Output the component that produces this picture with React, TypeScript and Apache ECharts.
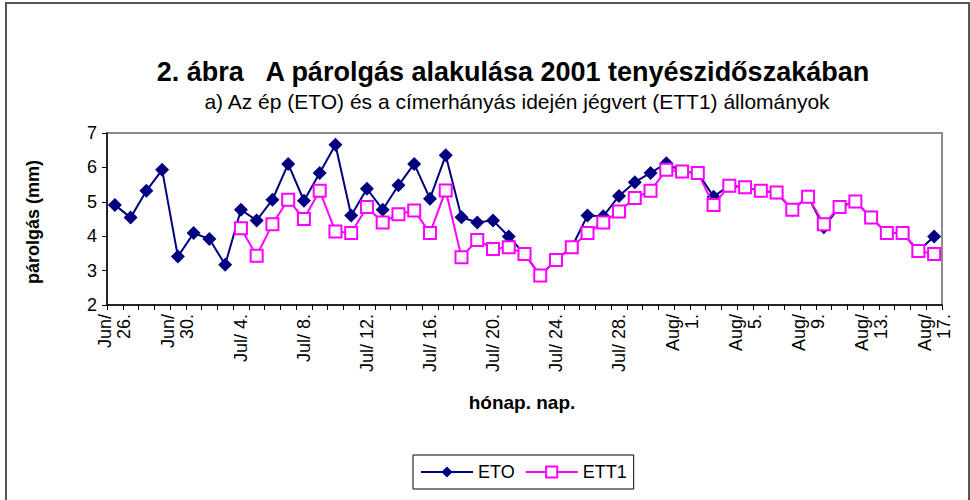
import React, { useEffect, useRef } from "react";
import * as echarts from "echarts";

const categories: string[] = [
  "Jun/ 26.", "Jun/ 27.", "Jun/ 28.", "Jun/ 29.", "Jun/ 30.",
  "Jul/ 1.", "Jul/ 2.", "Jul/ 3.", "Jul/ 4.", "Jul/ 5.", "Jul/ 6.", "Jul/ 7.", "Jul/ 8.",
  "Jul/ 9.", "Jul/ 10.", "Jul/ 11.", "Jul/ 12.", "Jul/ 13.", "Jul/ 14.", "Jul/ 15.", "Jul/ 16.",
  "Jul/ 17.", "Jul/ 18.", "Jul/ 19.", "Jul/ 20.", "Jul/ 21.", "Jul/ 22.", "Jul/ 23.", "Jul/ 24.",
  "Jul/ 25.", "Jul/ 26.", "Jul/ 27.", "Jul/ 28.", "Jul/ 29.", "Jul/ 30.", "Jul/ 31.",
  "Aug/ 1.", "Aug/ 2.", "Aug/ 3.", "Aug/ 4.", "Aug/ 5.", "Aug/ 6.", "Aug/ 7.", "Aug/ 8.",
  "Aug/ 9.", "Aug/ 10.", "Aug/ 11.", "Aug/ 12.", "Aug/ 13.", "Aug/ 14.", "Aug/ 15.", "Aug/ 16.",
  "Aug/ 17.",
];

const eto: number[] = [
  4.91, 4.54, 5.32, 5.93, 3.41, 4.09, 3.92, 3.17, 4.77, 4.46,
  5.06, 6.10, 5.03, 5.84, 6.66, 4.60, 5.38, 4.77, 5.48, 6.10,
  5.09, 6.35, 4.55, 4.40, 4.46, 3.99, 3.48, 2.86, 3.31, 3.68,
  4.60, 4.58, 5.17, 5.57, 5.84, 6.12, 5.88, 5.84, 5.15, 5.47,
  5.42, 5.32, 5.27, 4.77, 5.15, 4.26, 4.85, 5.01, 4.54, 4.09,
  4.09, 3.57, 3.99,
];

const ett1: (number | null)[] = [
  null, null, null, null, null, null, null, null, 4.23, 3.43,
  4.35, 5.06, 4.50, 5.32, 4.14, 4.09, 4.85, 4.40, 4.64, 4.75,
  4.09, 5.33, 3.39, 3.89, 3.63, 3.68, 3.48, 2.86, 3.31, 3.68,
  4.09, 4.40, 4.72, 5.11, 5.32, 5.93, 5.88, 5.84, 4.91, 5.47,
  5.42, 5.32, 5.27, 4.77, 5.15, 4.35, 4.85, 5.01, 4.54, 4.09,
  4.09, 3.57, 3.48,
];

const seriesNames = ["ETO", "ETT1"];
const yTicks = { min: 2, max: 7, interval: 1 };
const titleText = "2. ábra   A párolgás alakulása 2001 tenyészidőszakában";
const subtitleText = "a) Az ép (ETO) és a címerhányás idején jégvert (ETT1) állományok";
const yName = "párolgás (mm)";
const xName = "hónap. nap.";

const FONT = "'Liberation Sans', Arial, sans-serif";

export default function App() {
  const ref = useRef<HTMLDivElement>(null);
  useEffect(() => {
    if (!ref.current) return;
    const chart = echarts.init(ref.current, undefined, { renderer: "svg" });
    chart.setOption({
      animation: false,
      backgroundColor: "#ffffff",
      textStyle: { fontFamily: FONT },
      grid: {
        left: 107,
        right: 28,
        top: 133,
        height: 172,
        show: true,
        borderColor: "#8c8c8c",
        borderWidth: 2,
        backgroundColor: "transparent",
      },
      xAxis: {
        type: "category",
        data: categories,
        boundaryGap: true,
        axisLine: { show: true, lineStyle: { color: "#000", width: 1.5 } },
        axisTick: { show: true, interval: 0, length: 5, lineStyle: { color: "#000" } },
        axisLabel: {
          interval: 3,
          rotate: 90,
          margin: 9,
          fontSize: 18,
          color: "#000",
          fontFamily: FONT,
          lineHeight: 19,
          formatter: (v: string) =>
            v.startsWith("Jul") ? v : v.replace("/ ", "/\n"),
        },
        splitLine: { show: false },
      },
      yAxis: {
        type: "value",
        min: yTicks.min,
        max: yTicks.max,
        interval: yTicks.interval,
        axisLine: { show: true, lineStyle: { color: "#000", width: 1.5 } },
        axisTick: { show: true, length: 5, lineStyle: { color: "#000" } },
        axisLabel: { fontSize: 18, color: "#000", margin: 10, fontFamily: FONT },
        splitLine: { show: false },
      },
      legend: {
        data: seriesNames,
        left: 413,
        top: 455,
        orient: "horizontal",
        borderColor: "#000",
        borderWidth: 1,
        padding: [8, 7],
        itemWidth: 52,
        itemHeight: 14,
        itemGap: 10,
        textStyle: { fontSize: 18, color: "#000", fontFamily: FONT },
      },
      graphic: [
        {
          type: "rect",
          shape: { x: 6, y: 3, width: 963, height: 520 },
          style: { fill: "none", stroke: "#555", lineWidth: 2 },
          silent: true,
        },
        {
          type: "text",
          x: 513,
          y: 72,
          style: {
            text: titleText,
            fontSize: 27,
            fontWeight: "bold",
            fontFamily: FONT,
            fill: "#000",
            textAlign: "center",
            textVerticalAlign: "middle",
          },
        },
        {
          type: "text",
          x: 517,
          y: 101,
          style: {
            text: subtitleText,
            fontSize: 21,
            fontFamily: FONT,
            fill: "#000",
            textAlign: "center",
            textVerticalAlign: "middle",
          },
        },
        {
          type: "text",
          x: 33,
          y: 222,
          rotation: Math.PI / 2,
          style: {
            text: yName,
            fontSize: 18,
            fontWeight: "bold",
            fontFamily: FONT,
            fill: "#000",
            textAlign: "center",
            textVerticalAlign: "middle",
          },
        },
        {
          type: "text",
          x: 522,
          y: 402,
          style: {
            text: xName,
            fontSize: 19,
            fontWeight: "bold",
            fontFamily: FONT,
            fill: "#000",
            textAlign: "center",
            textVerticalAlign: "middle",
          },
        },
      ],
      series: [
        {
          name: seriesNames[0],
          type: "line",
          data: eto,
          symbol: "diamond",
          symbolSize: 14,
          showAllSymbol: true,
          lineStyle: { color: "#000080", width: 2 },
          itemStyle: { color: "#000080" },
          z: 2,
        },
        {
          name: seriesNames[1],
          type: "line",
          data: ett1,
          connectNulls: false,
          symbol: "rect",
          symbolSize: 12,
          showAllSymbol: true,
          lineStyle: { color: "#FF00FF", width: 2 },
          itemStyle: { color: "#ffffff", borderColor: "#FF00FF", borderWidth: 2 },
          z: 3,
        },
      ],
    });
    return () => chart.dispose();
  }, []);
  return (
    <div
      ref={ref}
      style={{ position: "absolute", left: 0, top: 0, width: 970, height: 500 }}
    />
  );
}
